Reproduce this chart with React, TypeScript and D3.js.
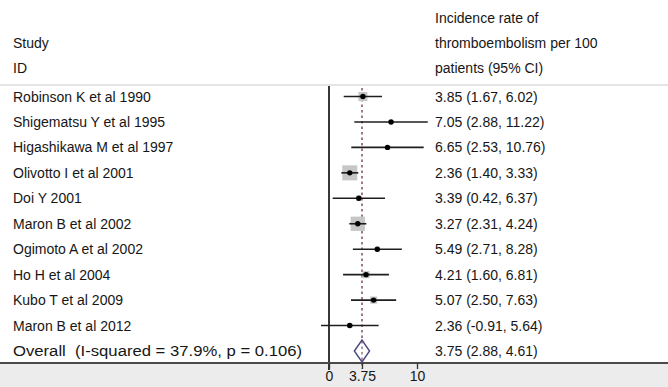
import React, { useEffect, useRef } from 'react';
import * as d3 from 'd3';

const studies = [
  'Robinson K et al 1990',
  'Shigematsu Y et al 1995',
  'Higashikawa M et al 1997',
  'Olivotto I et al 2001',
  'Doi Y 2001',
  'Maron B et al 2002',
  'Ogimoto A et al 2002',
  'Ho H et al 2004',
  'Kubo T et al 2009',
  'Maron B et al 2012',
];
const estimates = [3.85, 7.05, 6.65, 2.36, 3.39, 3.27, 5.49, 4.21, 5.07, 2.36];
const lower = [1.67, 2.88, 2.53, 1.4, 0.42, 2.31, 2.71, 1.6, 2.5, -0.91];
const upper = [6.02, 11.22, 10.76, 3.33, 6.37, 4.24, 8.28, 6.81, 7.63, 5.64];
const weights = [8, 1.5, 1.5, 22, 3, 20, 2.5, 5, 5, 2.5];
const overall = { label: 'Overall  (I-squared = 37.9%, p = 0.106)', est: 3.75, lo: 2.88, hi: 4.61 };
const headerLeft = ['Study', 'ID'];
const headerRight = ['Incidence rate of', 'thromboembolism per 100', 'patients (95% CI)'];
const ticks = [0, 3.75, 10];

const W = 668;
const H = 387;

export default function App() {
  const ref = useRef<SVGSVGElement>(null);

  useEffect(() => {
    const svg = d3.select(ref.current);
    svg.selectAll('*').remove();
    const font = 'Liberation Sans, Arial, sans-serif';
    const fs = 14;
    const textCol = '#161616';
    const colX = 435;

    const x = d3.scaleLinear().domain([0, 10]).range([329, 417]);
    const y = d3.scaleLinear().domain([0, 10]).range([96.5, 351]);
    const box = d3.scaleSqrt().domain([0, 22]).range([0, 15]);
    const fmt = (v: number) => v.toFixed(2);

    svg.append('rect').attr('width', W).attr('height', H).attr('fill', '#fff');
    svg.append('rect').attr('y', 364).attr('width', W).attr('height', H - 364).attr('fill', '#ececec');

    // header
    headerLeft.forEach((t, i) =>
      svg.append('text').attr('x', 13).attr('y', 48 + i * 25).text(t)
        .attr('font-family', font).attr('font-size', fs).attr('fill', textCol));
    headerRight.forEach((t, i) =>
      svg.append('text').attr('x', colX).attr('y', 23 + i * 25).text(t)
        .attr('font-family', font).attr('font-size', fs).attr('fill', textCol));

    svg.append('line').attr('x1', 0).attr('x2', W).attr('y1', 85).attr('y2', 85)
      .attr('stroke', '#dcdcdc').attr('stroke-width', 1.5);

    // reference lines
    svg.append('line').attr('x1', x(0)).attr('x2', x(0)).attr('y1', 86).attr('y2', 370)
      .attr('stroke', '#222').attr('stroke-width', 1.8);
    svg.append('line').attr('x1', x(overall.est)).attr('x2', x(overall.est)).attr('y1', 88).attr('y2', 369)
      .attr('stroke', '#6e3346').attr('stroke-width', 1.3).attr('stroke-dasharray', '2.5,3');

    const rows = svg.append('g');
    studies.forEach((s, i) => {
      const yy = y(i);
      rows.append('text').attr('x', 13).attr('y', yy + 5).text(s)
        .attr('font-family', font).attr('font-size', fs).attr('fill', textCol);
      rows.append('text').attr('x', colX).attr('y', yy + 5)
        .text(`${fmt(estimates[i])} (${fmt(lower[i])}, ${fmt(upper[i])})`)
        .attr('font-family', font).attr('font-size', fs).attr('fill', textCol);
      const b = box(weights[i]);
      rows.append('rect').attr('x', x(estimates[i]) - b / 2).attr('y', yy - b / 2)
        .attr('width', b).attr('height', b).attr('fill', '#c6c6c6');
      rows.append('line').attr('x1', x(lower[i])).attr('x2', x(upper[i])).attr('y1', yy).attr('y2', yy)
        .attr('stroke', '#1e1e1e').attr('stroke-width', 1.6);
      rows.append('circle').attr('cx', x(estimates[i])).attr('cy', yy).attr('r', 2.7).attr('fill', '#000');
    });

    // overall
    const yo = y(10);
    svg.append('text').attr('x', 13).attr('y', yo + 5).text(overall.label)
      .attr('xml:space', 'preserve').style('white-space', 'pre')
      .attr('textLength', 289).attr('lengthAdjust', 'spacingAndGlyphs')
      .attr('font-family', font).attr('font-size', fs).attr('fill', textCol);
    svg.append('text').attr('x', colX).attr('y', yo + 5)
      .text(`${fmt(overall.est)} (${fmt(overall.lo)}, ${fmt(overall.hi)})`)
      .attr('font-family', font).attr('font-size', fs).attr('fill', textCol);
    const dp = d3.path();
    dp.moveTo(x(overall.lo), yo);
    dp.lineTo(x(overall.est), yo - 11);
    dp.lineTo(x(overall.hi), yo);
    dp.lineTo(x(overall.est), yo + 11);
    dp.closePath();
    svg.append('path').attr('d', dp.toString()).attr('fill', '#fff')
      .attr('stroke', '#4b4a80').attr('stroke-width', 1.4);
    svg.append('line').attr('x1', x(overall.est)).attr('x2', x(overall.est)).attr('y1', yo - 10).attr('y2', yo + 10)
      .attr('stroke', '#6e3346').attr('stroke-width', 1).attr('stroke-dasharray', '2.5,3');

    // bottom axis
    svg.append('line').attr('x1', 0).attr('x2', W).attr('y1', 363).attr('y2', 363)
      .attr('stroke', '#4a4a4a').attr('stroke-width', 2);
    const ax = svg.append('g').attr('transform', 'translate(0,363)')
      .call(d3.axisBottom(x).tickValues(ticks).tickSize(6).tickFormat((d) => String(d)));
    ax.select('.domain').remove();
    ax.selectAll('line').attr('stroke', '#333').attr('stroke-width', 1.3);
    ax.selectAll('text').attr('font-family', font).attr('font-size', fs).attr('fill', textCol)
      .attr('y', 13).attr('dy', '0.35em');
  }, []);

  return (
    <svg ref={ref} width={W} height={H} style={{ position: 'absolute', left: 0, top: 0 }} />
  );
}
